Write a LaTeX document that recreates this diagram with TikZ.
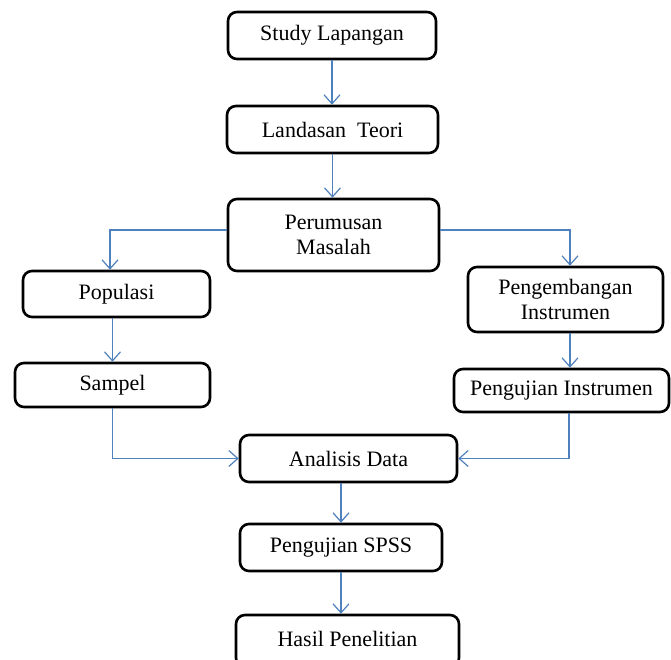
\documentclass[tikz,border=0pt]{standalone}
\usepackage{fontspec}
\setmainfont{Liberation Serif}
\usetikzlibrary{arrows.meta}
\definecolor{linkblue}{RGB}{79,129,189}
\begin{document}
\begin{tikzpicture}[x=1pt,y=-1pt,
  box/.style={draw=black, line width=2.6pt, rounded corners=9pt, fill=white,
    inner sep=0pt, align=center, font=\fontsize{22}{25}\selectfont},
  arr/.style={draw=linkblue, line width=1.2pt,
    -{Straight Barb[length=9pt,width=16pt,line width=1.2pt]}}]
\useasboundingbox[fill=white] (0,0) rectangle (671,660);
\clip (0,0) rectangle (671,660);
\node[box, minimum width=208pt, minimum height=47pt] (study) at (332,35.5) {Study Lapangan};
\node[box, minimum width=211pt, minimum height=47pt] (landasan) at (332.5,129.5) {Landasan\ \ Teori};
\node[box, minimum width=211pt, minimum height=72pt] (perumusan) at (333.5,235) {Perumusan\\Masalah};
\node[box, minimum width=187pt, minimum height=46pt] (populasi) at (116.5,294) {Populasi};
\node[box, minimum width=195pt, minimum height=44pt] (sampel) at (112.5,385) {Sampel};
\node[box, minimum width=195pt, minimum height=65pt] (pengembangan) at (565.5,299.5) {Pengembangan\\Instrumen};
\node[box, minimum width=215pt, minimum height=43pt] (pengujianI) at (561.5,390.5) {Pengujian Instrumen};
\node[box, minimum width=217pt, minimum height=47pt] (analisis) at (348.5,458.5) {Analisis Data};
\node[box, minimum width=202pt, minimum height=47pt] (spss) at (341,547.5) {Pengujian SPSS};
\node[box, minimum width=223pt, minimum height=52pt] (hasil) at (347.5,641) {\raisebox{5pt}{Hasil Penelitian}};

\draw[arr] (study.south) -- (study.south |- landasan.north);
\draw[arr] (landasan.south) -- (landasan.south |- perumusan.north);
\draw[arr] ([yshift=5pt]perumusan.west) -| ([xshift=-6.5pt]populasi.north);
\draw[arr] ([yshift=5pt]perumusan.east) -| ([xshift=4.5pt]pengembangan.north);
\draw[arr] (sampel.north |- populasi.south) -- (sampel.north);
\draw[arr] ([xshift=4.5pt]pengembangan.south) -- ([xshift=4.5pt]pengembangan.south |- pengujianI.north);
\draw[arr] (sampel.south) |- (analisis.west);
\draw[arr] ([xshift=7.5pt]pengujianI.south) |- (analisis.east);
\draw[arr] (spss.north |- analisis.south) -- (spss.north);
\draw[arr] (spss.south) -- (spss.south |- hasil.north);
\end{tikzpicture}
\end{document}
